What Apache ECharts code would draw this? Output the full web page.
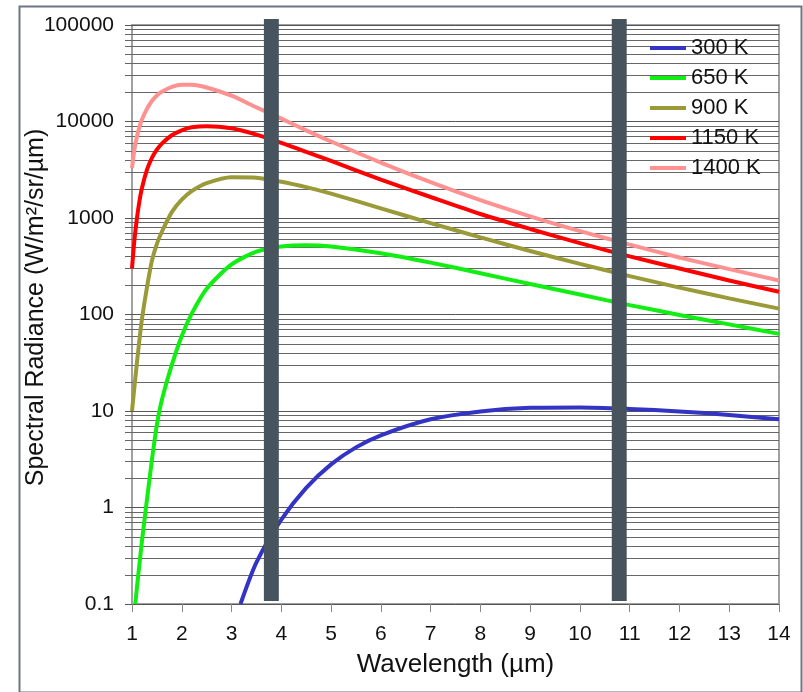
<!DOCTYPE html>
<html>
<head>
<meta charset="utf-8">
<script src="https://cdn.jsdelivr.net/npm/echarts@6/dist/echarts.min.js"></script>
<style>
  html, body { margin: 0; padding: 0; background: #fff; }
  #chart { width: 803px; height: 692px; }
</style>
</head>
<body>
<div id="chart"></div>
<script>
// wavelength samples (µm) shared by the hotter curves
const wavelengths = [1, 1.05, 1.1, 1.15, 1.2, 1.3, 1.4, 1.5, 1.6, 1.8, 2, 2.2, 2.5, 3, 3.5, 4, 4.5, 5, 6, 7, 8, 9, 10, 11, 12, 13, 14];
const radiance1400 = [3300, 5200, 7000, 8800, 10500, 13500, 16300, 18600, 20300, 22800, 24000, 24000, 22500, 18500, 14000, 10700, 8100, 6200, 3750, 2350, 1530, 1040, 730, 530, 390, 295, 225];
const radiance1150 = [300, 600, 1000, 1500, 2050, 3150, 4200, 5100, 5900, 7200, 8100, 8700, 8950, 8500, 7300, 6000, 4850, 3900, 2500, 1650, 1100, 770, 550, 400, 300, 225, 172];
const radiance900 = [10, 18, 32, 55, 90, 190, 360, 540, 720, 1150, 1550, 1900, 2300, 2650, 2620, 2380, 2090, 1790, 1260, 885, 630, 455, 335, 250, 190, 147, 115];

// the cooler curves start inside the plot
const wavelengths650 = [1.066, 1.1, 1.15, 1.2, 1.3, 1.4, 1.5, 1.6, 1.8, 2, 2.2, 2.5, 3, 3.5, 4, 4.5, 5, 6, 7, 8, 9, 10, 11, 12, 13, 14];
const radiance650 = [0.1, 0.15, 0.26, 0.45, 1.2, 3.1, 7.2, 13, 30, 60, 102, 185, 330, 448, 507, 522, 507, 432, 345, 268, 207, 161, 125, 99, 79, 63];
const wavelengths300 = [3.18, 3.5, 4, 4.5, 5, 5.5, 6, 7, 8, 9, 10, 11, 12, 13, 14];
const radiance300 = [0.1, 0.27, 0.75, 1.6, 2.8, 4.2, 5.6, 8.2, 9.9, 10.8, 10.9, 10.5, 9.9, 9.1, 8.2];

const seriesNames = ['300 K', '650 K', '900 K', '1150 K', '1400 K'];
const seriesColors = ['#3434c4', '#11ee11', '#9a9a38', '#ff0000', '#ff9191'];

// dark bands (atmospheric windows edges)
const bandStart = [3.65, 10.64];
const bandEnd = [3.95, 10.94];

// y-axis decades and minor gridline multipliers
const decades = [0.1, 1, 10, 100, 1000, 10000];
const minorSteps = [2, 3, 4, 5, 6, 7, 8, 9];

const minorValues = [];
decades.forEach(d => minorSteps.forEach(m => minorValues.push(+(d * m).toPrecision(3))));

function pairs(xs, ys) {
    return xs.map((x, i) => [x, ys[i]]);
}

const font = "'Liberation Sans', Arial, sans-serif";
const lineData = [
    pairs(wavelengths300, radiance300),
    pairs(wavelengths650, radiance650),
    pairs(wavelengths, radiance900),
    pairs(wavelengths, radiance1150),
    pairs(wavelengths, radiance1400)
];

const chart = echarts.init(document.getElementById('chart'));

const lineSeries = seriesNames.map((name, i) => ({
    name: name,
    type: 'line',
    data: lineData[i],
    smooth: 0.25,
    showSymbol: false,
    symbol: 'none',
    clip: true,
    z: 3,
    lineStyle: { color: seriesColors[i], width: 4 },
    itemStyle: { color: seriesColors[i] }
}));

const option = {
    backgroundColor: '#fff',
    animation: false,
    graphic: [{
        type: 'rect',
        left: 17, top: 4,
        shape: { width: 782, height: 686 },
        style: { fill: 'none', stroke: '#6b7785', lineWidth: 2 },
        z: 0
    }],
    grid: {
        left: 132, right: 24, top: 25, bottom: 88,
        show: true,
        borderColor: '#a0a0a0',
        borderWidth: 2,
        backgroundColor: 'transparent'
    },
    legend: {
        orient: 'vertical',
        left: 645,
        top: 32,
        itemWidth: 36,
        itemHeight: 4,
        itemGap: 8,
        icon: 'rect',
        data: seriesNames,
        textStyle: { fontFamily: font, fontSize: 22, lineHeight: 22, color: '#111' }
    },
    xAxis: {
        type: 'value',
        min: 1,
        max: 14,
        interval: 1,
        name: 'Wavelength (µm)',
        nameLocation: 'middle',
        nameGap: 48,
        nameTextStyle: { fontFamily: font, fontSize: 26, color: '#111' },
        axisLine: { show: false },
        axisTick: { show: true, length: 8, lineStyle: { color: '#888' } },
        axisLabel: { fontFamily: font, fontSize: 21, color: '#111', margin: 20 },
        splitLine: { show: false }
    },
    yAxis: {
        type: 'log',
        logBase: 10,
        min: 0.1,
        max: 100000,
        splitNumber: 6,
        name: 'Spectral Radiance (W/m²/sr/µm)',
        nameLocation: 'middle',
        nameGap: 83,
        nameMoveOverlap: false,
        nameTextStyle: { fontFamily: font, fontSize: 25, color: '#111', padding: [0, 0, 0, 14] },
        axisLine: { show: false },
        axisTick: { show: true, length: 7, lineStyle: { color: '#555' } },
        axisLabel: {
            fontFamily: font, fontSize: 21, color: '#111', margin: 18,
            formatter: v => (v < 1 ? v.toFixed(1) : String(Math.round(v)))
        },
        splitLine: { show: true, lineStyle: { color: '#555', width: 1 } }
    },
    series: [
        {
            // minor log gridlines + their ticks
            type: 'custom',
            silent: true,
            z: 1,
            data: minorValues.map(v => [1, v]),
            renderItem: function (params, api) {
                const cs = params.coordSys;
                const y = Math.round(api.coord([1, api.value(1)])[1]) + 0.5;
                return {
                    type: 'line',
                    shape: { x1: cs.x - 7, y1: y, x2: cs.x + cs.width, y2: y },
                    style: { stroke: '#666', lineWidth: 1 }
                };
            }
        },
        ...lineSeries,
        {
            // dark vertical bands
            type: 'custom',
            silent: true,
            z: 5,
            data: bandStart.map((s, i) => [s, bandEnd[i]]),
            renderItem: function (params, api) {
                const top = api.coord([api.value(0), 100000]);
                const bottom = api.coord([api.value(1), 0.1]);
                return {
                    type: 'rect',
                    shape: {
                        x: top[0],
                        y: top[1] - 6,
                        width: bottom[0] - top[0],
                        height: (bottom[1] - 3) - (top[1] - 6)
                    },
                    style: { fill: '#47535d' }
                };
            }
        }
    ]
};

chart.setOption(option);
</script>
</body>
</html>
